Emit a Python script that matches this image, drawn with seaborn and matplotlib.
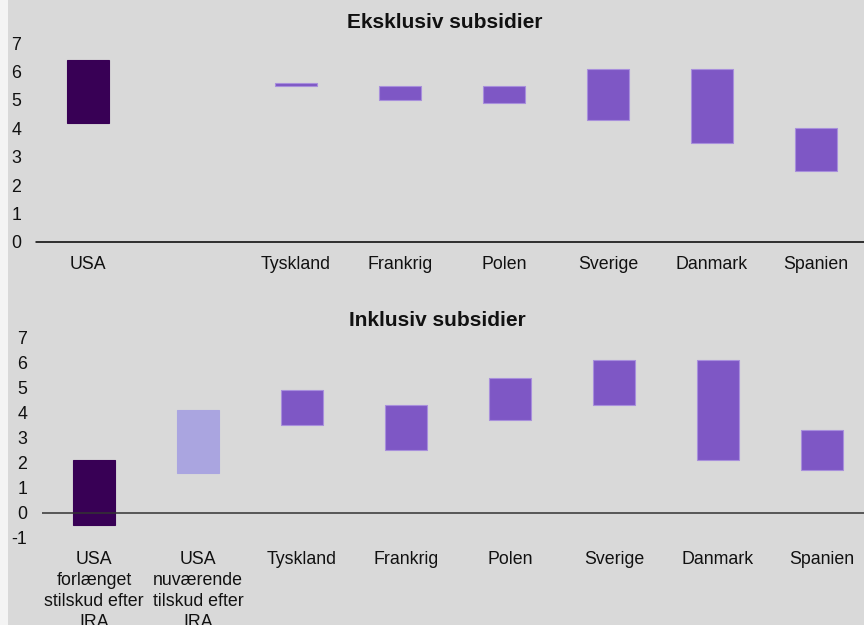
import numpy as np
import pandas as pd
import matplotlib
matplotlib.use("Agg")
import matplotlib.pyplot as plt
from matplotlib.patches import Rectangle
import seaborn as sns

# Category slots on each panel (the empty slot keeps the gap after USA)
excl_slots = ["USA", "", "Tyskland", "Frankrig", "Polen", "Sverige", "Danmark", "Spanien"]
incl_slots = ["USA\nforlænget\nstilskud efter\nIRA", "USA\nnuværende\ntilskud efter\nIRA",
              "Tyskland", "Frankrig", "Polen", "Sverige", "Danmark", "Spanien"]

# Eksklusiv subsidier: low / high ends of each range
excl_countries = ["USA", "Tyskland", "Frankrig", "Polen", "Sverige", "Danmark", "Spanien"]
excl_low = [4.2, 5.5, 5.0, 4.9, 4.3, 3.5, 2.5]
excl_high = [6.4, 5.6, 5.5, 5.5, 6.1, 6.1, 4.0]

# Inklusiv subsidier: low / high ends of each range
incl_countries = incl_slots
incl_low = [-0.5, 1.6, 3.5, 2.5, 3.7, 4.3, 2.1, 1.7]
incl_high = [2.1, 4.1, 4.9, 4.3, 5.4, 6.1, 6.1, 3.3]

y_ticks_excl = [0, 1, 2, 3, 4, 5, 6, 7]
y_ticks_incl = [-1, 0, 1, 2, 3, 4, 5, 6, 7]

DARK = "#380055"
MID = "#7e57c5"
LIGHT = "#aaa5e0"
BG = "#d9d9d9"

excl_colors = [DARK] + [MID] * 6
incl_colors = [DARK, LIGHT] + [MID] * 6

sns.set_style("white", {"axes.facecolor": BG, "figure.facecolor": BG})
plt.rcParams["font.family"] = ["Liberation Sans", "DejaVu Sans"]
plt.rcParams["text.color"] = "#111111"
plt.rcParams["axes.unicode_minus"] = False

W, H = 864, 625
fig = plt.figure(figsize=(W / 100, H / 100), dpi=100, facecolor=BG)
fig.patches.append(Rectangle((0, 0), 8 / W, 1, transform=fig.transFigure,
                             facecolor="#f4f4f4", edgecolor="none", zorder=0))

slot_px = 104
ax_top = fig.add_axes([36 / W, (H - 242) / H, 8 * slot_px / W, 199 / H])
ax_bot = fig.add_axes([42 / W, (H - 537.6) / H, 8 * slot_px / W, 199.9 / H])


def range_bars(ax, slots, countries, low, high, colors):
    df = pd.DataFrame({"cat": countries, "low": low, "high": high})
    df["span"] = df["high"] - df["low"]
    sns.barplot(data=df, x="cat", y="span", order=slots, bottom=df["low"].values,
                color=MID, saturation=1, width=0.4, errorbar=None, ax=ax,
                linewidth=0.8)
    for patch, c in zip(ax.patches, colors):
        patch.set_facecolor(c)
        patch.set_edgecolor("#a88fdc" if c == MID else c)
    ax.set_xlim(-0.5, 7.5)
    ax.set_xlabel("")
    ax.set_ylabel("")
    for s in ax.spines.values():
        s.set_visible(False)
    ax.tick_params(axis="both", length=0, labelsize=12.8, colors="#111111")
    ax.tick_params(axis="y", pad=10.5)
    ax.tick_params(axis="x", pad=10)


range_bars(ax_top, excl_slots, excl_countries, excl_low, excl_high, excl_colors)
ax_top.set_ylim(0, 7)
ax_top.set_yticks(y_ticks_excl)
ax_top.axhline(0, color="black", lw=1.1, clip_on=False)
ax_top.set_title("Eksklusiv subsidier", fontsize=15, fontweight="bold",
                 x=0.491, pad=10.5)

range_bars(ax_bot, incl_slots, incl_countries, incl_low, incl_high, incl_colors)
ax_bot.set_ylim(-1, 7)
ax_bot.set_yticks(y_ticks_incl)
ax_bot.axhline(0, color="#333333", lw=1.1, zorder=3)
ax_bot.set_title("Inklusiv subsidier", fontsize=15, fontweight="bold",
                 x=0.475, pad=8.4)
for lbl in ax_bot.get_xticklabels():
    lbl.set_linespacing(1.3)

fig.savefig("out.png", dpi=100, facecolor=BG)
